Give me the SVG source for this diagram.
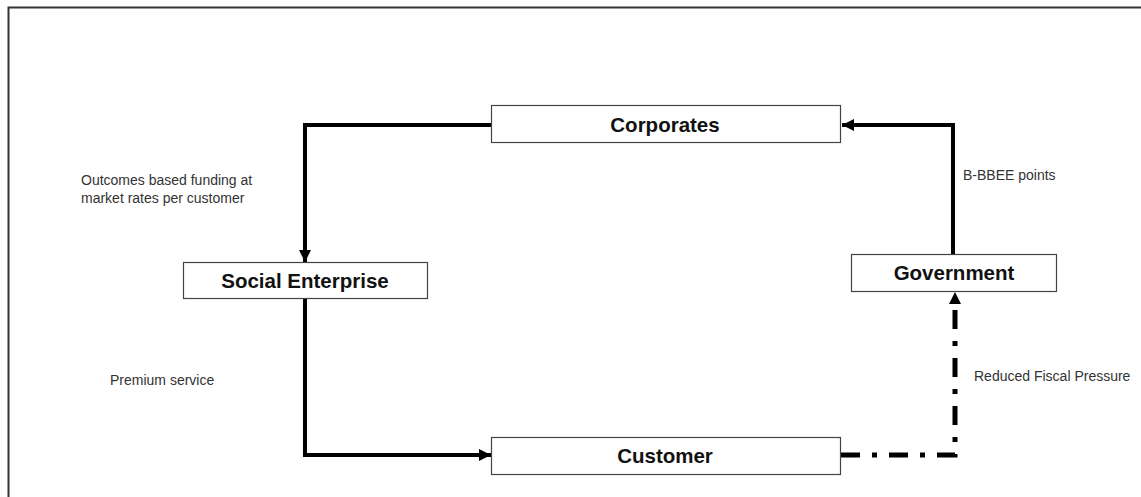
<svg xmlns="http://www.w3.org/2000/svg" width="1141" height="497" viewBox="0 0 1141 497">
<style>
.box{fill:#fff;stroke:#444;stroke-width:1.2}
.nt{font-family:"Liberation Sans",Arial,sans-serif;font-weight:bold;font-size:20.5px;fill:#111;text-anchor:middle}
.lb{font-family:"Liberation Sans",Arial,sans-serif;font-size:14px;fill:#333}
.ln{fill:none;stroke:#000;stroke-width:4}
.dl{fill:none;stroke:#000;stroke-width:5;stroke-dasharray:19 12 5 12}
</style>
<defs>
<marker id="ah" markerUnits="userSpaceOnUse" markerWidth="12" markerHeight="12" viewBox="0 0 12 12" refX="12" refY="6" orient="auto">
<path d="M0,0 L12,6 L0,12 Z" fill="#000"/>
</marker>
</defs>
<rect x="8.5" y="7.5" width="1200" height="600" fill="#fff" stroke="#333" stroke-width="2"/>
<g id="connectors">
<path class="ln" d="M491,125 H305 V262" marker-end="url(#ah)"/>
<path class="ln" d="M305,299 V455 H491" marker-end="url(#ah)"/>
<path class="ln" d="M953,254 V125 H842" marker-end="url(#ah)"/>
<path class="dl" d="M841,455 H955 V306"/>
<path d="M949,304 L955,292 L961,304 Z" fill="#000"/>
</g>
<g id="corporates">
<rect class="box" x="491.5" y="105.5" width="349" height="37"/>
<text class="nt" x="665" y="131.5">Corporates</text>
</g>
<g id="social-enterprise">
<rect class="box" x="183.5" y="262.5" width="244" height="36"/>
<text class="nt" x="305" y="287.5">Social Enterprise</text>
</g>
<g id="government">
<rect class="box" x="851.5" y="254.5" width="205" height="37"/>
<text class="nt" x="954" y="279.5">Government</text>
</g>
<g id="customer">
<rect class="box" x="491.5" y="437.5" width="349" height="37"/>
<text class="nt" x="665" y="463">Customer</text>
</g>
<g id="labels">
<text class="lb" x="81" y="185">Outcomes based funding at</text>
<text class="lb" x="81" y="203">market rates per customer</text>
<text class="lb" x="110" y="385">Premium service</text>
<text class="lb" x="963" y="180">B-BBEE points</text>
<text class="lb" x="974" y="381">Reduced Fiscal Pressure</text>
</g>
</svg>
